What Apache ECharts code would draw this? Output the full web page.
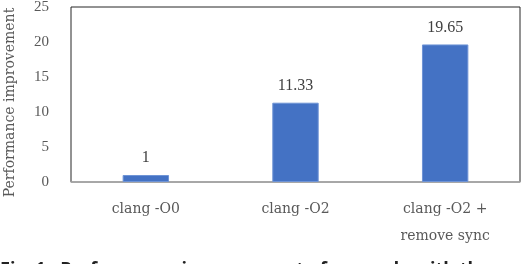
<!DOCTYPE html>
<html><head><meta charset="utf-8">
<script src="https://cdn.jsdelivr.net/npm/echarts@6/dist/echarts.min.js"></script>
<style>html,body{margin:0;padding:0;background:#fff}#c{width:522px;height:264px}</style>
</head><body><div id="c"></div>
<script>
var categories = ['clang -O0', 'clang -O2', 'clang -O2 +\nremove sync'];
var values = [1, 11.33, 19.65];
var valueLabels = ['1', '11.33', '19.65'];
var yTicks = [0, 5, 10, 15, 20, 25];
var yTitle = 'Performance improvement';
var caption = 'Fig. 1.  Performance improvement of our code with the';

var serif = '"DejaVu Serif", "Liberation Serif", serif';
var serif2 = '"Liberation Serif", serif';
var chart = echarts.init(document.getElementById('c'));
chart.setOption({
  animation: false,
  grid: {left: 71, top: 7, right: 2, bottom: 82, show: true, borderColor: '#262626', borderWidth: 1,
    outerBoundsMode: 'none', containLabel: false},
  xAxis: {
    type: 'category', data: categories,
    axisLine: {lineStyle: {color: '#b0b0b0', width: 1.5}},
    axisTick: {show: false},
    axisLabel: {fontFamily: serif, fontSize: 14, color: '#595959', margin: 14, lineHeight: 27}
  },
  yAxis: {
    type: 'value', min: yTicks[0], max: yTicks[yTicks.length - 1], interval: 5,
    splitLine: {show: false}, axisLine: {show: false}, axisTick: {show: false},
    axisLabel: {fontFamily: serif2, fontSize: 15, color: '#595959', margin: 22},
    name: yTitle, nameLocation: 'middle', nameGap: 54, nameRotate: 90,
    nameTextStyle: {fontFamily: serif, fontSize: 14, color: '#595959', padding: [0, 16, 0, 0]}
  },
  series: [{
    type: 'bar', data: values, barWidth: '31%',
    itemStyle: {color: '#4472C4', borderColor: '#6f94d6', borderWidth: 1},
    label: {show: true, position: 'top', distance: 9, fontFamily: serif2, fontSize: 16, color: '#404040',
      formatter: function (p) { return valueLabels[p.dataIndex]; }}
  }],
  graphic: [{type: 'text', left: 0, top: 261, style: {text: caption, font: 'bold 18px "Open Sans", sans-serif', fill: '#222'}}]
});
</script></body></html>
